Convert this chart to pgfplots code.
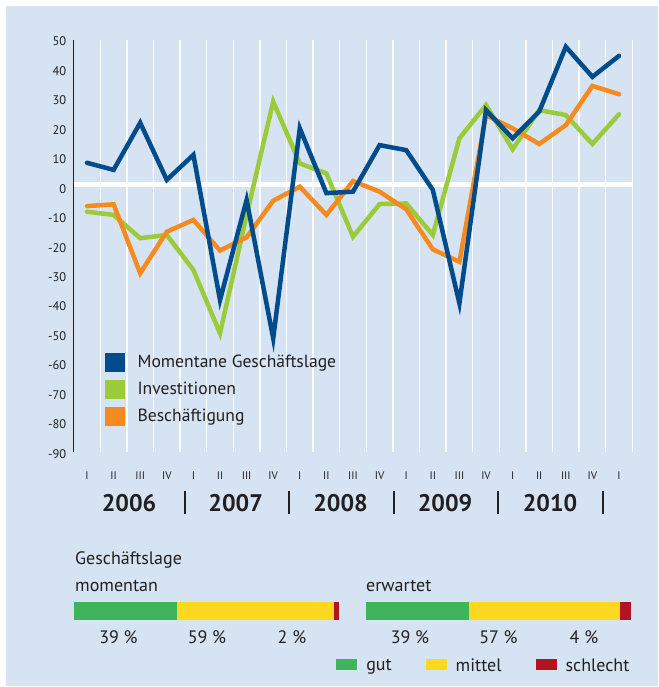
\documentclass[border=0pt]{standalone}
\usepackage{pgfplots}
\usepackage{pgfplotstable}
\pgfplotsset{compat=1.18}
\usepackage{fontspec}
\setmainfont{PT Sans}
\definecolor{bgc}{RGB}{213,227,242}
\definecolor{cBlue}{RGB}{0,76,138}
\definecolor{cGreen}{RGB}{155,203,58}
\definecolor{cOrange}{RGB}{245,138,31}
\definecolor{cGut}{RGB}{64,180,90}
\definecolor{cMittel}{RGB}{253,216,32}
\definecolor{cSchlecht}{RGB}{178,21,31}
\definecolor{txt}{RGB}{35,31,32}

\pgfplotstableread{
q blue green orange
0 8.3 -8.3 -6.4
1 5.9 -9.4 -5.8
2 21.9 -17.3 -29.2
3 2.5 -16.2 -15.1
4 11.0 -28.1 -11.1
5 -38.3 -49.6 -21.5
6 -4.3 -9.5 -17.0
7 -51.3 29.1 -4.6
8 20.0 8.1 0.2
9 -2.0 4.7 -9.4
10 -1.5 -16.8 2.1
11 14.3 -5.7 -1.5
12 12.6 -5.5 -7.5
13 -0.9 -16.2 -21.1
14 -39.4 16.6 -25.3
15 26.2 27.9 24.5
16 16.6 12.9 20.0
17 25.7 26.2 14.7
18 47.7 24.5 21.1
19 37.5 14.7 34.4
20 44.6 24.8 31.6
}\qdata

\begin{document}
\begin{tikzpicture}
\useasboundingbox (0pt,0pt) rectangle (658pt,687pt);
\fill[bgc] (6pt,1pt) rectangle (658pt,681pt);

\begin{axis}[
  at={(73.7pt,234.7pt)}, anchor=south west,
  scale only axis, width=558.6pt, height=412.3pt,
  xmin=-0.5, xmax=20.5, ymin=-90, ymax=50,
  axis lines*=left,
  x axis line style={draw=none},
  y axis line style={draw=txt, line width=0.9pt},
  xtick={0,...,20},
  xticklabels={I,II,III,IV,I,II,III,IV,I,II,III,IV,I,II,III,IV,I,II,III,IV,I},
  minor xtick={0.5,1.5,...,20.5},
  xminorgrids,
  minor grid style={white, line width=1.4pt},
  major tick length=0pt, minor tick length=0pt,
  tick style={draw=none},
  ytick={-90,-80,...,50},
  yticklabels={-90,-80,-70,-60,-50,-40,-30,-20,-10,0,10,20,30,40,50},
  extra y ticks={0.8},
  extra y tick labels={},
  extra y tick style={ymajorgrids=true, major grid style={white, line width=5pt}},
  yticklabel style={font=\fontsize{12.5}{14}\selectfont, text=txt, xshift=-4pt, yshift=-1.5pt},
  xticklabel style={font=\fontsize{11}{13}\selectfont, text=txt, anchor=base, yshift=-27.5pt},
  clip=false,
  legend image code/.code={\fill[#1] (0pt,-9pt) rectangle (19pt,9pt);},
  legend style={draw=none, fill=none, inner sep=0pt, at={(0.056,0.2408)}, anchor=north west,
    row sep=8.3pt, font=\fontsize{17.6}{20}\selectfont, text=txt,
    nodes={inner xsep=0pt, inner ysep=0pt}, cells={anchor=west},
    /tikz/every odd column/.append style={column sep=13pt}},
]
\addlegendimage{cBlue}
\addlegendentry{Momentane Geschäftslage}
\addlegendimage{cGreen}
\addlegendentry{Investitionen}
\addlegendimage{cOrange}
\addlegendentry{Beschäftigung}
\addplot[forget plot, cGreen, line width=4.5pt, line cap=round] table[x=q,y=green] {\qdata};
\addplot[forget plot, cOrange, line width=4.5pt, line cap=round] table[x=q,y=orange] {\qdata};
\addplot[forget plot, cBlue, line width=4.5pt, line cap=round] table[x=q,y=blue] {\qdata};
\end{axis}

% year labels and separators
\foreach \x/\yr in {129/2006,235.7/2007,340.5/2008,445/2009,550/2010}
  \node[anchor=base, font=\fontsize{24}{28}\selectfont\bfseries, text=txt, inner sep=0pt] at (\x pt,175pt) {\yr};
\foreach \x in {185,289,394,498,603}
  \draw[txt, line width=1.1pt] (\x pt,173pt) -- (\x pt,196pt);

% bottom block texts
\node[anchor=base west, font=\fontsize{18}{21}\selectfont, text=txt, inner sep=0pt] at (75pt,122pt) {Geschäftslage};
\node[anchor=base west, font=\fontsize{18}{21}\selectfont, text=txt, inner sep=0pt] at (75pt,95.3pt) {momentan};
\node[anchor=base west, font=\fontsize{18}{21}\selectfont, text=txt, inner sep=0pt] at (366pt,95.3pt) {erwartet};

\foreach \x/\t in {118.5/39,207/59,292/2,410/39,498.5/57,584/4}
  \node[anchor=base, font=\fontsize{18}{21}\selectfont, text=txt, inner sep=0pt] at (\x pt,43pt) {\t\ \%};

\begin{axis}[
  at={(74pt,67pt)}, anchor=south west,
  scale only axis, width=265pt, height=18pt,
  xmin=0, xmax=100, ymin=-0.5, ymax=0.5,
  hide axis, xbar stacked, bar width=18pt,
]
\addplot[fill=cGut, draw=none] coordinates {(39,0)};
\addplot[fill=cMittel, draw=none] coordinates {(59,0)};
\addplot[fill=cSchlecht, draw=none] coordinates {(2,0)};
\end{axis}

\begin{axis}[
  at={(366pt,67pt)}, anchor=south west,
  scale only axis, width=265pt, height=18pt,
  xmin=0, xmax=100, ymin=-0.5, ymax=0.5,
  hide axis, xbar stacked, bar width=18pt,
  clip=false,
  legend columns=3,
  legend image code/.code={\fill[#1] (0pt,-4pt) rectangle (21pt,7pt);},
  legend style={draw=none, fill=none, inner sep=0pt, at={(axis cs:-11.3,-3.05)}, anchor=west,
    font=\fontsize{18}{21}\selectfont, text=txt,
    nodes={inner xsep=0pt, inner ysep=0pt},
    /tikz/every odd column/.append style={column sep=9pt},
    /tikz/every even column/.append style={column sep=34pt}},
]
\addplot[fill=cGut, draw=none] coordinates {(39,0)};
\addplot[fill=cMittel, draw=none] coordinates {(57,0)};
\addplot[fill=cSchlecht, draw=none] coordinates {(4,0)};
\legend{gut,mittel,schlecht}
\end{axis}
\end{tikzpicture}
\end{document}
